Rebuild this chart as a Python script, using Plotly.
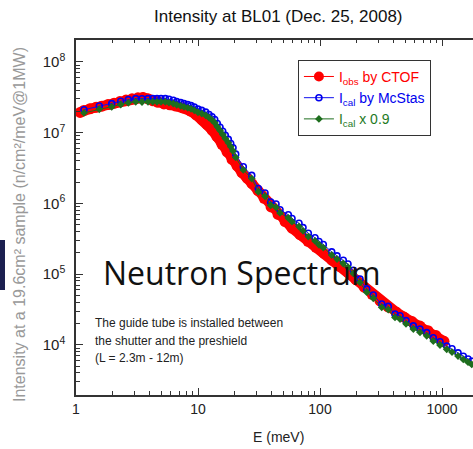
import plotly.graph_objects as go

# ---------------- data ----------------
E_obs = [1.08, 1.16, 1.30, 1.46, 1.63, 1.83, 2.05, 2.29, 2.57, 2.88, 3.22, 3.54, 3.89, 4.28,
         4.70, 5.26, 5.89, 6.60, 7.54, 8.60, 9.63, 10.8, 11.9, 13.0, 14.3, 15.7, 17.3, 19.0,
         20.9, 22.9, 25.2, 27.7, 31.0, 34.8, 39.7, 45.3, 51.7, 58.9, 68.5, 79.7, 92.7, 108,
         125, 146, 170, 197, 230, 267, 310, 361, 420, 488, 568, 660, 768, 893, 1038]
I_obs = [1.93e7, 2.06e7, 2.17e7, 2.28e7, 2.37e7, 2.49e7, 2.61e7, 2.75e7, 2.89e7, 3.01e7,
         3.11e7, 3.14e7, 3.01e7, 2.82e7, 2.68e7, 2.55e7, 2.47e7, 2.38e7, 2.24e7, 2.03e7,
         1.78e7, 1.51e7, 1.30e7, 1.09e7, 8.77e6, 6.85e6, 5.35e6, 4.18e6, 3.38e6, 2.73e6,
         2.28e6, 1.90e6, 1.51e6, 1.18e6, 8.91e5, 6.97e5, 5.53e5, 4.47e5, 3.61e5, 2.91e5,
         2.39e5, 1.96e5, 1.58e5, 1.28e5, 1.05e5, 8.34e4, 6.52e4, 5.18e4, 4.18e4, 3.43e4,
         2.91e4, 2.47e4, 2.13e4, 1.84e4, 1.58e4, 1.35e4, 1.12e4]

E_cal = [1.163, 1.552, 1.962, 2.325, 2.684, 3.086, 3.475, 3.893, 4.254, 4.613, 4.974, 5.395,
         5.785, 6.272, 6.690, 7.215, 7.677, 8.234, 8.763, 9.326, 10.0, 10.72, 11.56, 12.31,
         13.02, 13.71, 14.39, 15.15, 15.94, 16.74, 17.72, 18.54, 19.36, 20.37, 23.51, 27.56,
         31.21, 35.42, 39.44, 43.59, 47.00, 54.99, 58.95, 67.29, 72.56, 80.21, 91.0, 98.1,
         106.4, 124.7, 137.8, 155.2, 169.6, 187.5, 212.8, 241.4, 273.5, 320.4, 362.8, 411.9,
         452.7, 507, 582, 660, 749, 848, 963, 1093, 1208, 1353, 1495, 1634, 1752]
I_cal = [2.11e7, 2.375e7, 2.57e7, 2.774e7, 2.932e7, 3.03e7, 3.01e7, 3.03e7, 3.03e7, 3.03e7,
         3.03e7, 3.03e7, 2.96e7, 2.866e7, 2.745e7, 2.657e7, 2.57e7, 2.487e7, 2.407e7, 2.298e7,
         2.152e7, 2.062e7, 1.95e7, 1.808e7, 1.676e7, 1.534e7, 1.345e7, 1.19e7, 1.044e7, 9.15e6,
         8.02e6, 7.03e6, 6.11e6, 4.96e6, 3.30e6, 2.487e6, 1.622e6, 1.404e6, 1.044e6, 9.77e5,
         8.13e5, 6.90e5, 6.11e5, 5.23e5, 4.54e5, 3.77e5, 3.27e5, 2.894e5, 2.622e5, 2.062e5,
         1.808e5, 1.57e5, 1.39e5, 1.13e5, 8.48e4, 6.17e4, 5.06e4, 3.77e4, 3.49e4, 2.71e4,
         2.57e4, 2.20e4, 1.85e4, 1.665e4, 1.484e4, 1.259e4, 1.104e4, 9.58e3, 8.77e3, 7.69e3,
         6.90e3, 6.31e3, 5.85e3]
I_cal_x09 = [1.90e7, 2.14e7, 2.31e7, 2.50e7, 2.64e7, 2.73e7, 2.71e7, 2.73e7, 2.73e7, 2.73e7,
             2.73e7, 2.73e7, 2.66e7, 2.58e7, 2.47e7, 2.39e7, 2.31e7, 2.24e7, 2.17e7, 2.07e7,
             1.94e7, 1.86e7, 1.76e7, 1.63e7, 1.51e7, 1.38e7, 1.21e7, 1.07e7, 9.40e6, 8.24e6,
             7.22e6, 6.33e6, 5.50e6, 4.46e6, 2.97e6, 2.24e6, 1.46e6, 1.26e6, 9.40e5, 8.79e5,
             7.32e5, 6.21e5, 5.50e5, 4.71e5, 4.09e5, 3.39e5, 2.94e5, 2.60e5, 2.36e5, 1.86e5,
             1.63e5, 1.41e5, 1.25e5, 1.02e5, 7.63e4, 5.55e4, 4.55e4, 3.39e4, 3.14e4, 2.44e4,
             2.31e4, 1.98e4, 1.67e4, 1.50e4, 1.34e4, 1.13e4, 9.94e3, 8.62e3, 7.89e3, 6.92e3,
             6.21e3, 5.68e3, 5.27e3]

x_tick_vals = [1, 10, 100, 1000]
x_tick_labels = ["1", "10", "100", "1000"]
y_tick_vals = [1e4, 1e5, 1e6, 1e7, 1e8]
y_tick_labels = ["10<sup>4</sup>", "10<sup>5</sup>", "10<sup>6</sup>", "10<sup>7</sup>", "10<sup>8</sup>"]
x_minor = [m * d for d in (1, 10, 100, 1000) for m in range(2, 10)]
y_minor = [m * d for d in (1e3, 1e4, 1e5, 1e6, 1e7, 1e8) for m in range(2, 10)]

FONT = "Liberation Sans, Arial, sans-serif"
AX = "#333333"
RED, BLUE, GREEN = "#ff0000", "#0000ee", "#1e6e1e"

fig = go.Figure()
# dense measured band (drawn as thick line + markers)
fig.add_trace(go.Scatter(
    x=E_obs, y=I_obs, mode="lines+markers", showlegend=False,
    line=dict(color=RED, width=10),
    marker=dict(symbol="circle", size=11, color=RED, line=dict(width=0)),
))
# legend entry for the measured data
fig.add_trace(go.Scatter(
    x=[None], y=[None], mode="lines+markers",
    name="<span style='color:#ff0000'>I<sub>obs</sub> by CTOF</span>",
    line=dict(color=RED, width=1),
    marker=dict(symbol="circle", size=10, color=RED, line=dict(width=0)),
))
fig.add_trace(go.Scatter(
    x=E_cal, y=I_cal, mode="lines+markers",
    name="<span style='color:#0000ee'>I<sub>cal</sub> by McStas</span>",
    line=dict(color="#1010ee", width=1),
    marker=dict(symbol="circle-open", size=6, color=BLUE, line=dict(width=1.6)),
))
fig.add_trace(go.Scatter(
    x=E_cal, y=I_cal_x09, mode="lines+markers",
    name="<span style='color:#1e7a1e'>I<sub>cal</sub> x 0.9</span>",
    line=dict(color=GREEN, width=1),
    marker=dict(symbol="diamond", size=6, color=GREEN, line=dict(width=0)),
))
# invisible trace to carry the top axis
fig.add_trace(go.Scatter(x=[10], y=[1e6], xaxis="x2", mode="markers",
                         marker=dict(opacity=0), showlegend=False, hoverinfo="skip"))

fig.update_layout(
    width=473, height=449,
    margin=dict(l=76, r=0, t=40, b=54),
    paper_bgcolor="white", plot_bgcolor="white",
    font=dict(family=FONT, color="#222222"),
    showlegend=True,
    legend=dict(x=0.559, y=0.944, xanchor="left", yanchor="top",
                bordercolor="#333333", borderwidth=1, bgcolor="white",
                font=dict(size=14, family=FONT), tracegroupgap=0, itemwidth=30),
    xaxis=dict(type="log", range=[0, 3.254], showgrid=False, zeroline=False,
               showline=True, linecolor=AX, linewidth=1.5,
               ticks="inside", ticklen=7, tickwidth=1, tickcolor=AX,
               tickmode="array", tickvals=x_tick_vals, ticktext=x_tick_labels,
               tickfont=dict(size=14, color="#222222"),
               minor=dict(ticks="inside", ticklen=4, tickwidth=1, tickcolor=AX,
                          tickmode="array", tickvals=x_minor)),
    xaxis2=dict(type="log", range=[0, 3.254], overlaying="x", side="top", anchor="y",
                showgrid=False, zeroline=False, showline=True, linecolor=AX, linewidth=1.5,
                ticks="inside", ticklen=6, tickwidth=1, tickcolor=AX,
                tickmode="array", tickvals=x_tick_vals, showticklabels=False,
                minor=dict(ticks="inside", ticklen=3.5, tickwidth=1, tickcolor=AX,
                           tickmode="array", tickvals=x_minor)),
    yaxis=dict(type="log", range=[3.29, 8.31], showgrid=False, zeroline=False,
               showline=True, linecolor=AX, linewidth=1.5,
               ticks="inside", ticklen=7, tickwidth=1, tickcolor=AX,
               tickmode="array", tickvals=y_tick_vals, ticktext=y_tick_labels,
               tickfont=dict(size=15, color="#222222"), ticklabelstandoff=6,
               minor=dict(ticks="inside", ticklen=4, tickwidth=1, tickcolor=AX,
                          tickmode="array", tickvals=y_minor)),
)

ann = [
    dict(text="Intensity at BL01 (Dec. 25, 2008)", x=0.511, y=1.0676, xref="paper", yref="paper",
         showarrow=False, xanchor="center", yanchor="middle", font=dict(size=17, color="#111111")),
    dict(text="E (meV)", x=0.509, y=-0.118, xref="paper", yref="paper",
         showarrow=False, xanchor="center", yanchor="middle", font=dict(size=14, color="#222222")),
    dict(text="Intensity at a 19.6cm² sample (n/cm²/meV@1MW)", x=-0.141, y=0.479,
         xref="paper", yref="paper", showarrow=False, textangle=-90,
         xanchor="center", yanchor="middle", font=dict(size=16, color="#999999")),
    dict(text="Neutron Spectrum", x=0.064, y=0.3437, xref="paper", yref="paper",
         showarrow=False, xanchor="left", yanchor="middle",
         font=dict(size=32, color="#111111", family="Open Sans, Lato, sans-serif")),
    dict(text="The guide tube is installed between", x=0.0428, y=(395 - 323) / 355,
         xref="paper", yref="paper", showarrow=False, xanchor="left", yanchor="middle",
         font=dict(size=12, color="#222222")),
    dict(text="the shutter and the preshield", x=0.0428, y=(395 - 341) / 355,
         xref="paper", yref="paper", showarrow=False, xanchor="left", yanchor="middle",
         font=dict(size=12, color="#222222")),
    dict(text="(L = 2.3m - 12m)", x=0.0428, y=(395 - 358) / 355,
         xref="paper", yref="paper", showarrow=False, xanchor="left", yanchor="middle",
         font=dict(size=12, color="#222222")),
]
fig.update_layout(annotations=ann)

fig.add_shape(type="rect", xref="paper", yref="paper",
              x0=-0.1914, x1=-0.1788, y0=(395 - 290) / 355, y1=(395 - 240) / 355,
              fillcolor="#1c2050", line=dict(width=0), layer="above")

fig.write_html("out.html", config={"displayModeBar": False},
               post_script="document.body.style.margin='0';document.body.style.overflow='hidden';")
